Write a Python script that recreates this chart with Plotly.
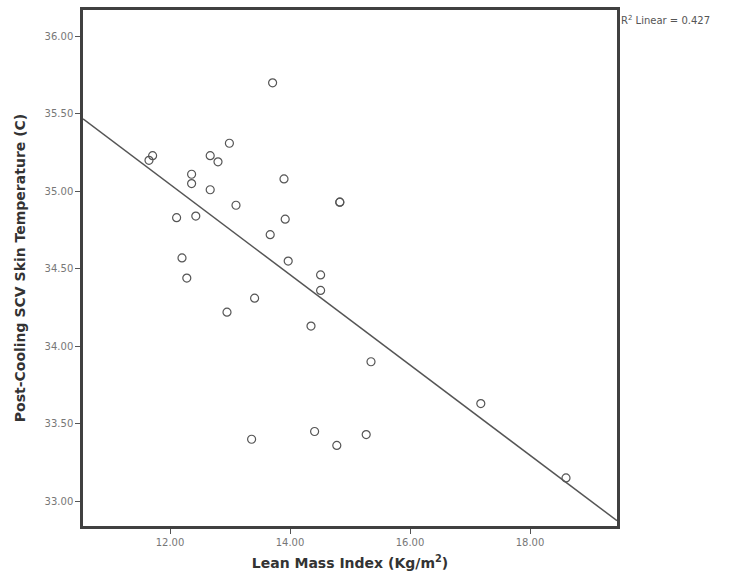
import numpy as np
import plotly.graph_objects as go

# Lean Mass Index (Kg/m^2)
lmi = [13.71, 12.99, 12.67, 12.80, 11.71, 11.65, 12.36, 12.36, 12.67, 13.90,
       13.10, 12.11, 12.43, 13.92, 13.67, 14.83, 14.83, 12.20, 13.97, 12.28,
       14.51, 14.51, 13.41, 12.95, 14.35, 15.35, 13.36, 14.41, 14.78, 15.27,
       17.18, 18.60]
# Post-cooling SCV skin temperature (C)
temp = [35.70, 35.31, 35.23, 35.19, 35.23, 35.20, 35.11, 35.05, 35.01, 35.08,
        34.91, 34.83, 34.84, 34.82, 34.72, 34.93, 34.93, 34.57, 34.55, 34.44,
        34.46, 34.36, 34.31, 34.22, 34.13, 33.90, 33.40, 33.45, 33.36, 33.43,
        33.63, 33.15]

x_ticks = [12, 14, 16, 18]
y_ticks = [33.0, 33.5, 34.0, 34.5, 35.0, 35.5, 36.0]
x_range = [10.55, 19.45]
y_range = [32.84, 36.17]
r2_label = "R<sup>2</sup> Linear = 0.427"

slope, intercept = np.polyfit(lmi, temp, 1)
fit_x = np.array(x_range)
fit_y = slope * fit_x + intercept

fig = go.Figure()
fig.add_trace(go.Scatter(
    x=fit_x, y=fit_y, mode="lines",
    line=dict(color="#555555", width=1.5),
    hoverinfo="skip", showlegend=False,
))
fig.add_trace(go.Scatter(
    x=lmi, y=temp, mode="markers",
    marker=dict(symbol="circle-open", size=8, color="#555555",
                line=dict(width=1.2, color="#555555")),
    showlegend=False,
))

axis_common = dict(
    showgrid=False, zeroline=False,
    showline=True, linecolor="#404040", linewidth=2.5, mirror=True,
    ticks="outside", ticklen=5, tickwidth=1, tickcolor="#555555",
    tickfont=dict(family="DejaVu Sans", size=10, color="#777777"),
    tickformat=".2f",
)

fig.update_layout(
    width=732, height=581,
    margin=dict(l=83, r=115, t=7, b=55),
    paper_bgcolor="white", plot_bgcolor="white",
    xaxis=dict(range=x_range, tickvals=x_ticks,
               title=dict(text="Lean Mass Index (Kg/m<sup>2</sup>)", standoff=12,
                          font=dict(family="DejaVu Sans", size=14, color="#333333",
                                    weight="bold")),
               **axis_common),
    yaxis=dict(range=y_range, tickvals=y_ticks,
               title=dict(text="Post-Cooling SCV Skin Temperature (C)", standoff=16,
                          font=dict(family="DejaVu Sans", size=14, color="#333333",
                                    weight="bold")),
               **axis_common),
    annotations=[dict(
        text=r2_label, xref="paper", yref="paper", x=1.0, y=1.0,
        xanchor="left", yanchor="top", xshift=2, yshift=-2, showarrow=False,
        font=dict(family="DejaVu Sans", size=10, color="#555555"),
    )],
)

fig.write_html("out.html")
